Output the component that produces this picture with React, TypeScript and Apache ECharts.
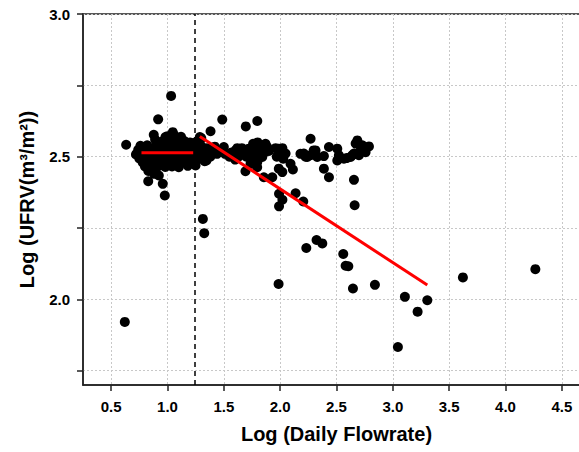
import React, { useEffect, useRef } from "react";
import * as echarts from "echarts";

// Log(Daily Flowrate), Log(UFRV) pairs
const lowFlowCluster: number[][] = [
  [0.633, 2.542], [1.032, 2.713], [0.917, 2.631], [0.878, 2.577], [0.89, 2.56], [1.047, 2.586], [0.982, 2.569],
  [1.0, 2.572], [1.06, 2.575], [1.12, 2.57], [1.3, 2.565],
  [0.95, 2.553], [1.02, 2.556], [1.07, 2.558], [1.11, 2.552], [1.15, 2.555], [1.2, 2.55], [1.26, 2.553],
  [0.76, 2.538], [0.82, 2.54], [0.9, 2.542], [0.95, 2.537], [1.0, 2.54], [1.04, 2.543], [1.08, 2.538], [1.12, 2.541], [1.16, 2.536], [1.2, 2.539], [1.25, 2.54], [1.3, 2.537],
  [0.74, 2.524], [0.8, 2.526], [0.86, 2.522], [0.92, 2.527], [0.97, 2.523], [1.02, 2.525], [1.07, 2.528], [1.11, 2.522], [1.15, 2.526], [1.19, 2.524], [1.23, 2.527], [1.28, 2.522], [1.33, 2.525],
  [0.72, 2.508], [0.77, 2.51], [0.83, 2.512], [0.88, 2.507], [0.94, 2.511], [0.99, 2.509], [1.04, 2.513], [1.09, 2.508], [1.14, 2.51], [1.18, 2.512], [1.22, 2.507], [1.27, 2.51], [1.31, 2.513], [1.36, 2.508],
  [0.75, 2.494], [0.8, 2.497], [0.85, 2.492], [0.9, 2.496], [0.96, 2.493], [1.01, 2.497], [1.06, 2.494], [1.12, 2.496], [1.17, 2.492], [1.21, 2.495], [1.26, 2.497], [1.3, 2.493],
  [0.78, 2.48], [0.84, 2.478], [0.89, 2.482], [0.94, 2.479], [1.0, 2.481], [1.05, 2.478], [1.1, 2.482], [1.16, 2.48], [1.2, 2.478], [1.24, 2.481], [1.33, 2.484],
  [0.8, 2.466], [0.86, 2.463], [0.92, 2.467], [0.98, 2.464], [1.04, 2.466], [1.1, 2.463], [1.18, 2.468], [1.249, 2.469],
  [0.83, 2.45], [0.88, 2.44], [0.923, 2.434], [0.829, 2.414], [0.958, 2.405], [0.976, 2.364], [0.849, 2.463],
];

const midFlowCluster: number[][] = [
  [1.382, 2.589], [1.287, 2.569], [1.486, 2.63], [1.695, 2.606], [1.797, 2.625],
  [1.35, 2.53], [1.4, 2.52], [1.44, 2.51], [1.38, 2.5], [1.346, 2.487], [1.42, 2.535], [1.47, 2.52], [1.5, 2.534], [1.51, 2.51],
  [1.57, 2.515], [1.55, 2.5], [1.604, 2.522], [1.619, 2.53], [1.648, 2.51], [1.63, 2.5], [1.6, 2.49], [1.66, 2.53], [1.7, 2.5],
  [1.722, 2.528], [1.767, 2.534], [1.76, 2.545], [1.8, 2.55], [1.841, 2.54], [1.885, 2.534], [1.87, 2.545], [1.811, 2.51],
  [1.752, 2.499], [1.841, 2.499], [1.797, 2.481], [1.737, 2.475], [1.78, 2.52], [1.82, 2.53], [1.86, 2.515], [1.9, 2.52],
  [1.692, 2.449], [1.796, 2.463], [1.855, 2.428], [1.93, 2.428],
  [1.988, 2.528], [1.96, 2.53], [2.0, 2.515], [2.02, 2.53], [1.97, 2.5], [2.048, 2.511], [2.027, 2.493],
  [1.988, 2.458], [2.019, 2.446], [2.092, 2.475], [2.113, 2.455],
];

const highFlowCluster: number[][] = [
  [2.18, 2.51], [2.225, 2.5], [2.297, 2.522], [2.27, 2.505],
  [2.21, 2.511], [2.24, 2.499], [2.27, 2.563], [2.314, 2.522], [2.329, 2.499], [2.388, 2.502], [2.433, 2.534],
  [2.507, 2.528], [2.521, 2.505], [2.507, 2.487], [2.566, 2.493], [2.625, 2.499], [2.655, 2.511], [2.67, 2.546],
  [2.685, 2.557], [2.714, 2.522], [2.729, 2.54], [2.758, 2.516], [2.788, 2.536], [2.699, 2.505], [2.64, 2.505],
  [2.59, 2.495], [2.74, 2.53],
  [2.388, 2.458], [2.433, 2.428], [2.655, 2.419], [2.661, 2.33],
];

const scatteredPoints: number[][] = [
  [1.314, 2.282], [1.326, 2.232], [0.621, 1.921], [1.99, 2.37], [2.02, 2.349], [1.99, 2.326], [2.137, 2.372],
  [2.205, 2.343], [2.232, 2.18], [2.323, 2.208], [2.374, 2.196], [2.56, 2.159], [2.581, 2.118], [2.605, 2.116],
  [2.646, 2.038], [2.841, 2.051], [1.986, 2.054], [3.107, 2.009], [3.306, 1.997], [3.22, 1.957], [3.045, 1.833],
  [3.622, 2.077], [4.265, 2.106],
];

const plateauFit: number[][] = [[0.769, 2.514], [1.228, 2.514]];
const declineFit: number[][] = [[1.287, 2.571], [3.306, 2.05]];
const breakpoint = 1.24;

const xTicks = [0.5, 1.0, 1.5, 2.0, 2.5, 3.0, 3.5, 4.0, 4.5];
const yTicks = [1.75, 2.0, 2.25, 2.5, 2.75, 3.0];
const yLabels = [2.0, 2.5, 3.0];

const FONT = "'Liberation Sans', Arial, sans-serif";

export default function App() {
  const ref = useRef<HTMLDivElement>(null);
  useEffect(() => {
    if (!ref.current) return;
    const chart = echarts.init(ref.current, null, { renderer: "svg" });
    const gridLine = { show: true, lineStyle: { color: "#c8c8c8", type: [2, 2] as any, width: 1 } };
    const axisCol = "#222";
    chart.setOption({
      animation: false,
      backgroundColor: "#fff",
      grid: {
        left: 83, top: 14, right: 0, bottom: 67,
        show: true, borderColor: axisCol, borderWidth: 1.5, backgroundColor: "transparent",
      },
      xAxis: {
        type: "value", min: 0.25, max: 4.75,
        name: "Log (Daily Flowrate)", nameLocation: "middle", nameGap: 39,
        nameTextStyle: { fontFamily: FONT, fontWeight: "bold", fontSize: 20, color: "#000" },
        axisLine: { show: true, lineStyle: { color: axisCol, width: 1.5 } },
        axisTick: { show: true, inside: false, length: 6, customValues: xTicks, lineStyle: { color: axisCol, width: 1.5 } },
        axisLabel: {
          customValues: xTicks, margin: 14,
          fontFamily: FONT, fontWeight: "bold", fontSize: 15, color: "#000",
          formatter: (v: number) => v.toFixed(1),
        },
        splitLine: gridLine,
      },
      yAxis: {
        type: "value", min: 1.7, max: 3.0,
        name: "Log (UFRV(m³/m²))", nameLocation: "middle", nameGap: 46,
        nameTextStyle: { fontFamily: FONT, fontWeight: "bold", fontSize: 20, color: "#000" },
        axisLine: { show: true, lineStyle: { color: axisCol, width: 1.5 } },
        axisTick: { show: true, inside: false, length: 6, customValues: yTicks, lineStyle: { color: axisCol, width: 1.5 } },
        axisLabel: {
          customValues: yLabels, margin: 13,
          fontFamily: FONT, fontWeight: "bold", fontSize: 15, color: "#000",
          formatter: (v: number) => v.toFixed(1),
        },
        splitLine: gridLine,
      },
      series: [
        {
          type: "line", data: [], silent: true,
          markLine: {
            silent: true, symbol: ["none", "none"], label: { show: false },
            lineStyle: { color: "#000", type: [5, 4] as any, width: 1.5 },
            data: [{ xAxis: breakpoint }],
          },
        },
        ...[lowFlowCluster, midFlowCluster, highFlowCluster, scatteredPoints].map((d) => ({
          type: "scatter", data: d, symbol: "circle", symbolSize: 10,
          itemStyle: { color: "#000", opacity: 1 },
        })),
        ...[plateauFit, declineFit].map((d) => ({
          type: "line", data: d, showSymbol: false, z: 5,
          lineStyle: { color: "#ff0000", width: 3 },
        })),
      ],
    });
    return () => chart.dispose();
  }, []);
  return <div ref={ref} style={{ position: "fixed", left: 0, top: 0, width: 590, height: 452 }} />;
}
